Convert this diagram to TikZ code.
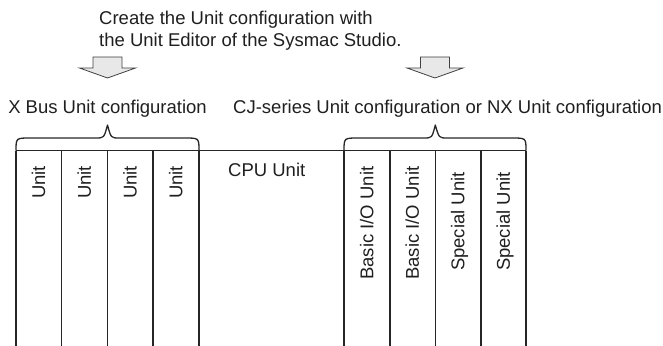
\documentclass[tikz,border=0pt]{standalone}
\usepackage{fontspec}
\setmainfont{Liberation Sans}
\begin{document}
\begin{tikzpicture}[x=1pt,y=-1pt,
  lbl/.style={inner sep=0pt, font=\fontsize{18.5}{21}\selectfont, text=black!88},
  vlbl/.style={lbl, rotate=90, anchor=base west},
  ln/.style={line width=1.3pt, draw=black!85},
  bracepath/.style={line width=1.3pt, draw=black!85, line join=round},
  blockarrow/.style={fill=black!9, draw=black!75, line width=0.8pt, line join=miter}]
\useasboundingbox (0,0) rectangle (663,345);

% heading
\node[lbl, anchor=base west] (title1) at (99,25) {Create the Unit configuration with};
\node[lbl, anchor=base west] (title2) at (99,46) {the Unit Editor of the Sysmac Studio.};

% block arrows
\foreach \cx/\nm in {107.5/arrL, 435/arrR}{
  \draw[blockarrow] (\cx-14.5,57) -- (\cx+14.5,57) -- (\cx+14.5,68) -- (\cx+28,68)
     -- (\cx,78) -- (\cx-28,68) -- (\cx-14.5,68) -- cycle;
  \coordinate (\nm) at (\cx,78);
}

% group labels
\node[lbl, anchor=base] (xbus) at (107.5,113) {X Bus Unit configuration};
\node[lbl, anchor=base west] (cj) at (233,113) {CJ-series Unit configuration or NX Unit configuration};

% braces
\draw[bracepath] (16,150.7) .. controls (16,138) .. (30,138) -- (96,138)
   .. controls (104,138) .. (107.5,125) .. controls (111,138) .. (119,138)
   -- (185,138) .. controls (199,138) .. (199,150.7);
\draw[bracepath] (344,150.7) .. controls (344,138) .. (358,138) -- (424,138)
   .. controls (432,138) .. (435.3,125) .. controls (439,138) .. (447,138)
   -- (512,138) .. controls (526,138) .. (526,150.7);

% CPU rack lines
\draw[ln] (16,150.7) -- (526,150.7);
\foreach \x in {16,61.7,107.3,153,199,344,390,435.3,481,526}
  \draw[ln] (\x,150.7) -- (\x,346);

\node[lbl, anchor=base west] (cpu) at (228,176) {CPU Unit};

% rotated unit labels
\node[vlbl] (u1) at (45.2,199) {Unit};
\node[vlbl] (u2) at (90.9,199) {Unit};
\node[vlbl] (u3) at (136.5,199) {Unit};
\node[vlbl] (u4) at (182.4,199) {Unit};
\node[vlbl] (b1) at (373.4,280) {Basic I/O Unit};
\node[vlbl] (b2) at (418.9,280) {Basic I/O Unit};
\node[vlbl, anchor=base east] (s1) at (464.4,172) {Special Unit};
\node[vlbl, anchor=base east] (s2) at (509.9,172) {Special Unit};
\end{tikzpicture}
\end{document}
